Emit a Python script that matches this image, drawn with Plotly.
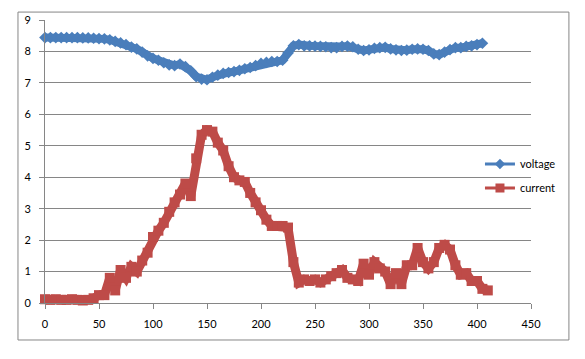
import plotly.graph_objects as go

# ---- data ----
voltage_x = list(range(0, 410, 5))
voltage_y = [8.44, 8.44, 8.44, 8.44, 8.44, 8.44, 8.44, 8.43, 8.43, 8.42,
             8.41, 8.40, 8.37, 8.32, 8.27, 8.22, 8.14, 8.08, 7.98, 7.86,
             7.78, 7.72, 7.64, 7.57, 7.55, 7.60, 7.52, 7.38, 7.20, 7.12,
             7.10, 7.18, 7.25, 7.30, 7.33, 7.36, 7.40, 7.45, 7.49, 7.55,
             7.62, 7.65, 7.68, 7.68, 7.72, 7.95, 8.18, 8.22, 8.18, 8.18,
             8.17, 8.16, 8.15, 8.12, 8.12, 8.16, 8.17, 8.15, 8.07, 8.03,
             8.05, 8.10, 8.12, 8.13, 8.08, 8.05, 8.03, 8.04, 8.07, 8.08,
             8.07, 8.03, 7.92, 7.90, 7.98, 8.06, 8.12, 8.12, 8.16, 8.18,
             8.22, 8.26]

current_x = list(range(0, 415, 5))
current_y = [0.12, 0.10, 0.12, 0.10, 0.10, 0.12, 0.10, 0.08, 0.10, 0.15,
             0.25, 0.25, 0.80, 0.40, 1.05, 0.80, 1.15, 1.00, 1.35, 1.60,
             2.10, 2.30, 2.55, 2.90, 3.20, 3.45, 3.80, 3.40, 4.60, 5.35,
             5.50, 5.45, 5.10, 4.85, 4.35, 4.00, 3.90, 3.85, 3.50, 3.20,
             2.95, 2.65, 2.45, 2.45, 2.45, 2.40, 1.30, 0.65, 0.75, 0.70,
             0.75, 0.65, 0.75, 0.85, 0.95, 1.05, 0.80, 0.75, 0.70, 1.25,
             0.90, 1.30, 1.10, 1.00, 0.60, 0.95, 0.60, 1.20, 1.20, 1.75,
             1.30, 1.10, 1.30, 1.75, 1.85, 1.70, 1.20, 0.90, 0.95, 0.70,
             0.70, 0.45, 0.40]

x_ticks = [0, 50, 100, 150, 200, 250, 300, 350, 400, 450]
y_ticks = [0, 1, 2, 3, 4, 5, 6, 7, 8, 9]

BLUE = "#4A7EBB"
RED = "#BE4B48"
GRID = "#868686"
FONT = "Lato"

fig = go.Figure()
# data bands
fig.add_trace(go.Scatter(
    x=voltage_x, y=voltage_y, name="voltage", mode="lines+markers",
    line=dict(color=BLUE, width=8),
    marker=dict(symbol="diamond", size=9, color=BLUE),
    cliponaxis=False, showlegend=False))
fig.add_trace(go.Scatter(
    x=current_x, y=current_y, name="current", mode="lines+markers",
    line=dict(color=RED, width=9),
    marker=dict(symbol="square", size=10, color=RED),
    cliponaxis=False, showlegend=False))
# legend-only entries (thin line + marker, as in the reference legend)
fig.add_trace(go.Scatter(
    x=[None], y=[None], name="voltage", mode="lines+markers",
    line=dict(color=BLUE, width=3),
    marker=dict(symbol="diamond", size=8, color=BLUE),
    showlegend=True, legend="legend"))
fig.add_trace(go.Scatter(
    x=[None], y=[None], name="current", mode="lines+markers",
    line=dict(color=RED, width=3),
    marker=dict(symbol="square", size=9, color=RED),
    showlegend=True, legend="legend2"))

fig.update_layout(
    width=585, height=359,
    showlegend=True,
    margin=dict(l=45, r=54, t=20, b=56),
    paper_bgcolor="white", plot_bgcolor="white",
    font=dict(family=FONT, size=11, color="black"),
    xaxis=dict(range=[0, 450], tickvals=x_ticks, showgrid=False,
               ticks="outside", ticklen=5, tickcolor=GRID,
               showline=True, linecolor=GRID, linewidth=1, zeroline=False,
               ticklabelstandoff=6),
    yaxis=dict(range=[0, 9], tickvals=y_ticks, showgrid=True,
               gridcolor=GRID, gridwidth=1,
               ticks="outside", ticklen=5, tickcolor=GRID,
               showline=True, linecolor=GRID, linewidth=1, zeroline=False,
               ticklabelstandoff=6),
    legend=dict(x=0.895, y=0.491, xanchor="left", yanchor="middle",
                bgcolor="rgba(0,0,0,0)", font=dict(family=FONT, size=11)),
    legend2=dict(x=0.895, y=0.406, xanchor="left", yanchor="middle",
                 bgcolor="rgba(0,0,0,0)", font=dict(family=FONT, size=11)),
    shapes=[dict(type="rect", xref="paper", yref="paper",
                 x0=-0.0556, x1=1.078, y0=-0.1307, y1=1.028,
                 line=dict(color=GRID, width=1), fillcolor="rgba(0,0,0,0)",
                 layer="below")],
)

fig.write_html("out.html",
               config={"displayModeBar": False},
               post_script="document.body.style.margin='0';")
